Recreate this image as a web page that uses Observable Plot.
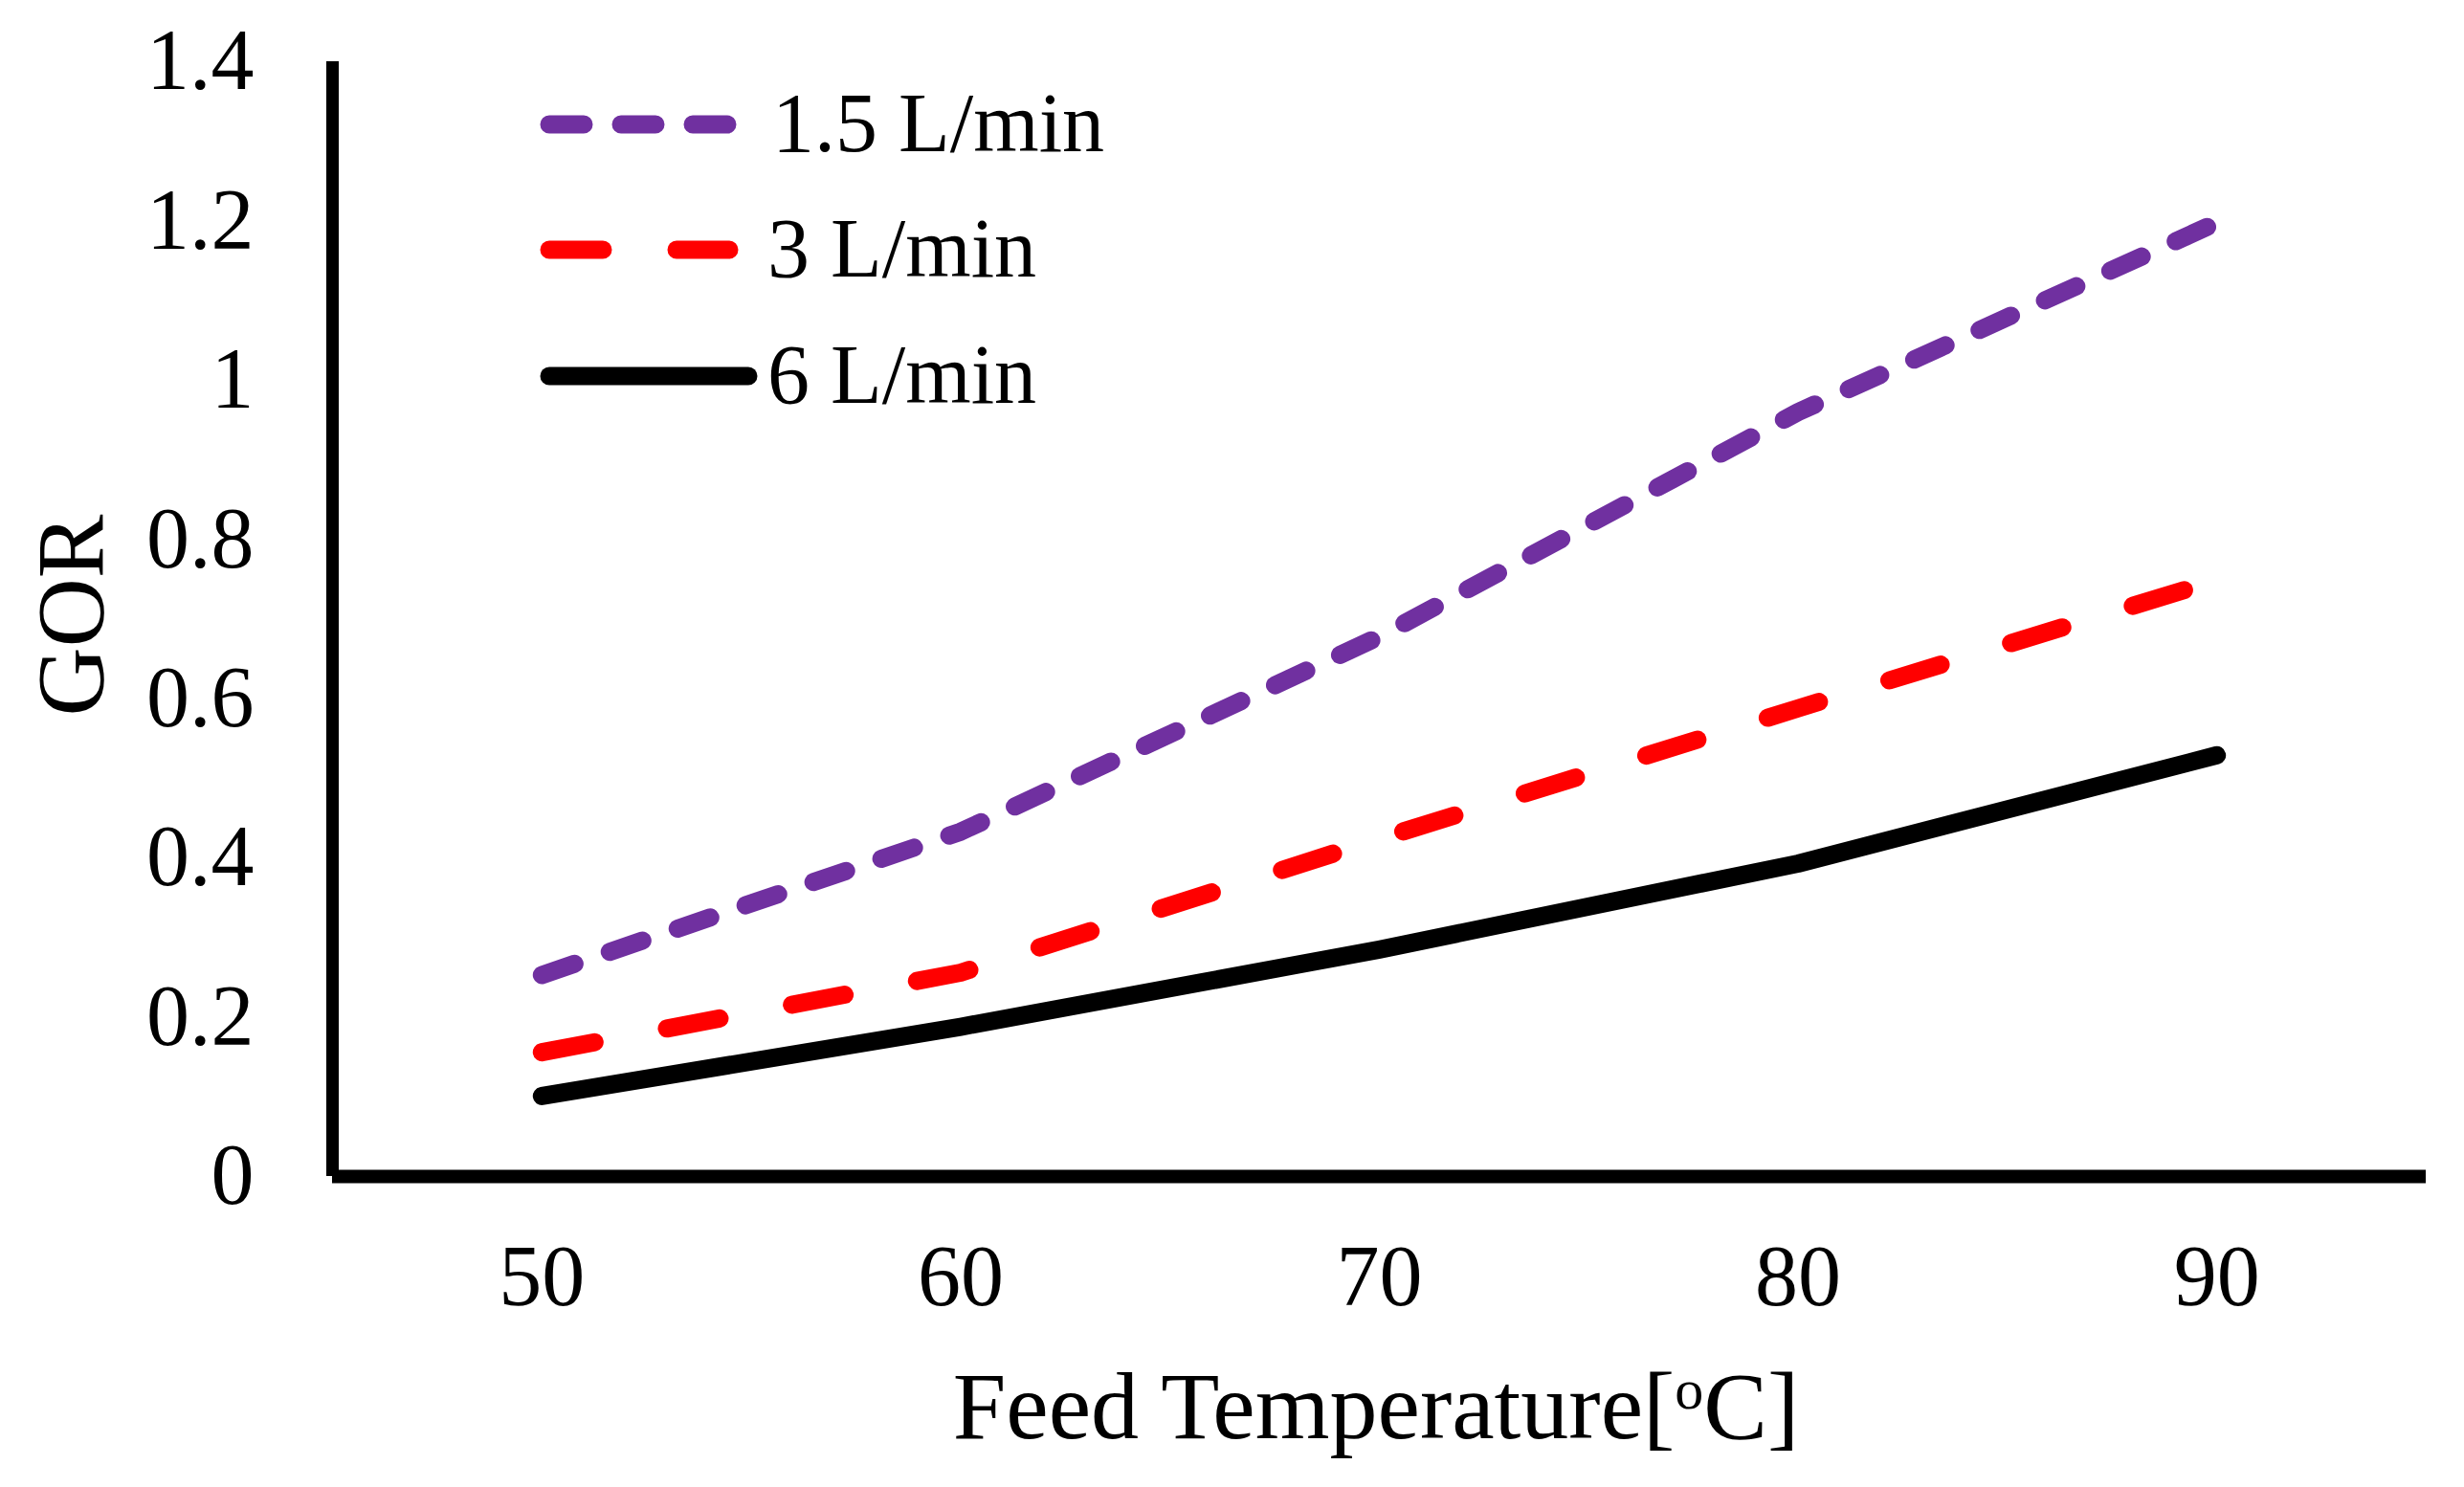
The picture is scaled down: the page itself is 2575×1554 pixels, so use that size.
<!DOCTYPE html>
<html>
<head>
<meta charset="utf-8">
<script src="https://cdn.jsdelivr.net/npm/d3@7"></script>
<script src="https://cdn.jsdelivr.net/npm/@observablehq/plot@0.6"></script>
<style>
  body { margin: 0; background: #fff; }
  #chart svg { display: block; }
</style>
</head>
<body>
<div id="chart"></div>
<script>
// Feed temperature (x) and GOR for each flow rate
const temps = [50, 60, 70, 80, 90];
const gor_15 = [0.253, 0.433, 0.678, 0.960, 1.198];
const gor_3 = [0.156, 0.256, 0.424, 0.588, 0.749];
const gor_6 = [0.101, 0.188, 0.285, 0.393, 0.529];

const series_names = ["1.5 L/min", "3 L/min", "6 L/min"];
const series_colors = ["#7030A0", "#FF0000", "#000000"];
const series_dashes = ["36 39", "56 77", null];

const y_ticks = [0, 0.2, 0.4, 0.6, 0.8, 1, 1.2, 1.4];
const y_tick_labels = ["0", "0.2", "0.4", "0.6", "0.8", "1", "1.2", "1.4"];
const x_ticks = [50, 60, 70, 80, 90];

const font = "'Liberation Serif', 'Times New Roman', serif";

const all_values = [gor_15, gor_3, gor_6];
const rows = series_names.flatMap((name, i) =>
    temps.map((t, j) => ({series: name, temp: t, gor: all_values[i][j]})));

function whenDocumentLoaded(action) {
    if (document.readyState === "loading") {
        document.addEventListener("DOMContentLoaded", action);
    } else {
        action();
    }
}

whenDocumentLoaded(() => {
    const lines = series_names.map((name, i) => {
        const opts = {
            x: "temp",
            y: "gor",
            stroke: series_colors[i],
            strokeWidth: 19,
            strokeLinecap: "round",
            strokeLinejoin: "round"
        };
        if (series_dashes[i]) opts.strokeDasharray = series_dashes[i];
        return Plot.line(rows.filter(d => d.series === name), opts);
    });

    const chart = Plot.plot({
        width: 2575,
        height: 1554,
        marginLeft: 347,
        marginRight: 40,
        marginTop: 64,
        marginBottom: 325,
        style: {fontFamily: font, color: "#000", background: "#fff", overflow: "visible"},
        x: {domain: [45, 95]},
        y: {domain: [0, 1.4]},
        marks: [
            // axis lines
            Plot.ruleX([45], {stroke: "#000", strokeWidth: 13}),
            Plot.ruleY([0], {stroke: "#000", strokeWidth: 14}),
            Plot.axisY(y_ticks, {
                tickSize: 0,
                tickPadding: 82,
                fontSize: 90,
                label: null,
                tickFormat: d => y_tick_labels[y_ticks.indexOf(d)]
            }),
            Plot.axisX(x_ticks, {
                tickSize: 0,
                tickPadding: 71,
                fontSize: 90,
                label: null,
                tickFormat: d => String(d)
            }),
            ...lines
        ]
    });

    document.getElementById("chart").append(chart);

    const svg = d3.select(chart);

    // Axis titles
    const xt = svg.append("text")
        .attr("x", 1438)
        .attr("y", 1503)
        .attr("text-anchor", "middle")
        .attr("font-family", font)
        .attr("font-size", 100)
        .attr("fill", "#000");
    xt.append("tspan").text("Feed Temperature[");
    xt.append("tspan").attr("font-size", 60).attr("dy", -31).text("o");
    xt.append("tspan").attr("dy", 31).text("C]");

    svg.append("text")
        .attr("transform", "translate(107,643) rotate(-90)")
        .attr("text-anchor", "middle")
        .attr("font-family", font)
        .attr("font-size", 100)
        .attr("fill", "#000")
        .text("GOR");

    // Legend
    const leg_y = [130, 261, 393];
    const leg_x2 = [760, 762, 782];
    const leg = svg.append("g");
    series_names.forEach((name, i) => {
        leg.append("line")
            .attr("x1", 574).attr("x2", leg_x2[i])
            .attr("y1", leg_y[i]).attr("y2", leg_y[i])
            .attr("stroke", series_colors[i])
            .attr("stroke-width", 19)
            .attr("stroke-linecap", "round")
            .attr("stroke-dasharray", series_dashes[i]);
        leg.append("text")
            .attr("x", i === 0 ? 807 : 802)
            .attr("y", leg_y[i] + 28)
            .attr("text-anchor", "start")
            .attr("font-family", font)
            .attr("font-size", 88)
            .attr("fill", "#000")
            .text(name);
    });
});
</script>
</body>
</html>
